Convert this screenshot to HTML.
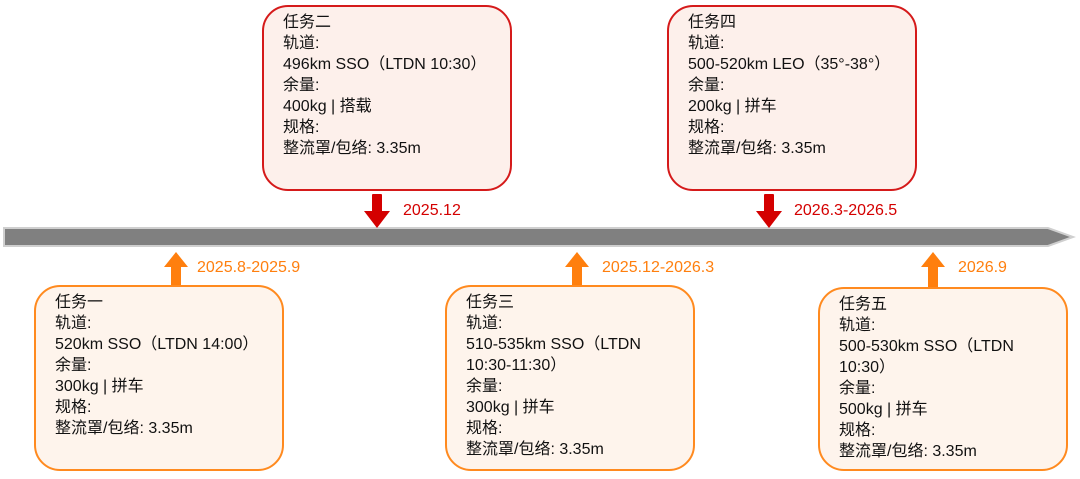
<!DOCTYPE html>
<html><head><meta charset="utf-8"><style>
body{margin:0;width:1080px;height:479px;background:#fff;position:relative;overflow:hidden;font-family:"Liberation Sans","Noto Sans CJK SC",sans-serif}
.b{position:absolute;box-sizing:border-box;border-radius:26px;padding:5px 0 0 19px;font-size:16px;line-height:21px;color:#111}
.r{border:2px solid #d51a1a;background:#fdf0eb}
.o{border:2px solid #ff8a1f;background:#fef4ec}
.l{position:absolute;font-size:16px;line-height:18px}
svg{position:absolute;left:0;top:0}
</style></head><body>
<svg width="1080" height="479">
<polygon points="4,228 1048,228 1073,237 1048,246 4,246" fill="#808080" stroke="#cfcfcf" stroke-width="2"/>
<g fill="#d40000">
<rect x="372" y="194" width="10" height="19" rx="1"/><polygon points="364,211 390,211 377,228"/>
<rect x="764" y="194" width="10" height="19" rx="1"/><polygon points="756,211 782,211 769,228"/>
</g>
<g fill="#ff7f0e">
<rect x="171" y="265" width="10" height="21"/><polygon points="164,267 188,267 176,252"/>
<rect x="572" y="265" width="10" height="21"/><polygon points="565,267 589,267 577,252"/>
<rect x="928" y="265" width="10" height="23"/><polygon points="921,267 945,267 933,252"/>
</g>
</svg>
<div class="l" style="left:403px;top:202px;color:#d40000">2025.12</div>
<div class="l" style="left:794px;top:202px;color:#d40000">2026.3-2026.5</div>
<div class="l" style="left:197px;top:259px;color:#ff7f0e">2025.8-2025.9</div>
<div class="l" style="left:602px;top:259px;color:#ff7f0e">2025.12-2026.3</div>
<div class="l" style="left:958px;top:259px;color:#ff7f0e">2026.9</div>

<div class="b r" style="left:262px;top:5px;width:250px;height:186px">任务二<br>轨道:<br>496km SSO（LTDN 10:30）<br>余量:<br>400kg | 搭载<br>规格:<br>整流罩/包络: 3.35m</div>
<div class="b r" style="left:667px;top:5px;width:250px;height:186px">任务四<br>轨道:<br>500-520km LEO（35°-38°）<br>余量:<br>200kg | 拼车<br>规格:<br>整流罩/包络: 3.35m</div>
<div class="b o" style="left:34px;top:285px;width:250px;height:186px">任务一<br>轨道:<br>520km SSO（LTDN 14:00）<br>余量:<br>300kg | 拼车<br>规格:<br>整流罩/包络: 3.35m</div>
<div class="b o" style="left:445px;top:285px;width:250px;height:186px">任务三<br>轨道:<br>510-535km SSO（LTDN<br>10:30-11:30）<br>余量:<br>300kg | 拼车<br>规格:<br>整流罩/包络: 3.35m</div>
<div class="b o" style="left:818px;top:287px;width:250px;height:184px">任务五<br>轨道:<br>500-530km SSO（LTDN<br>10:30）<br>余量:<br>500kg | 拼车<br>规格:<br>整流罩/包络: 3.35m</div>
</body></html>
